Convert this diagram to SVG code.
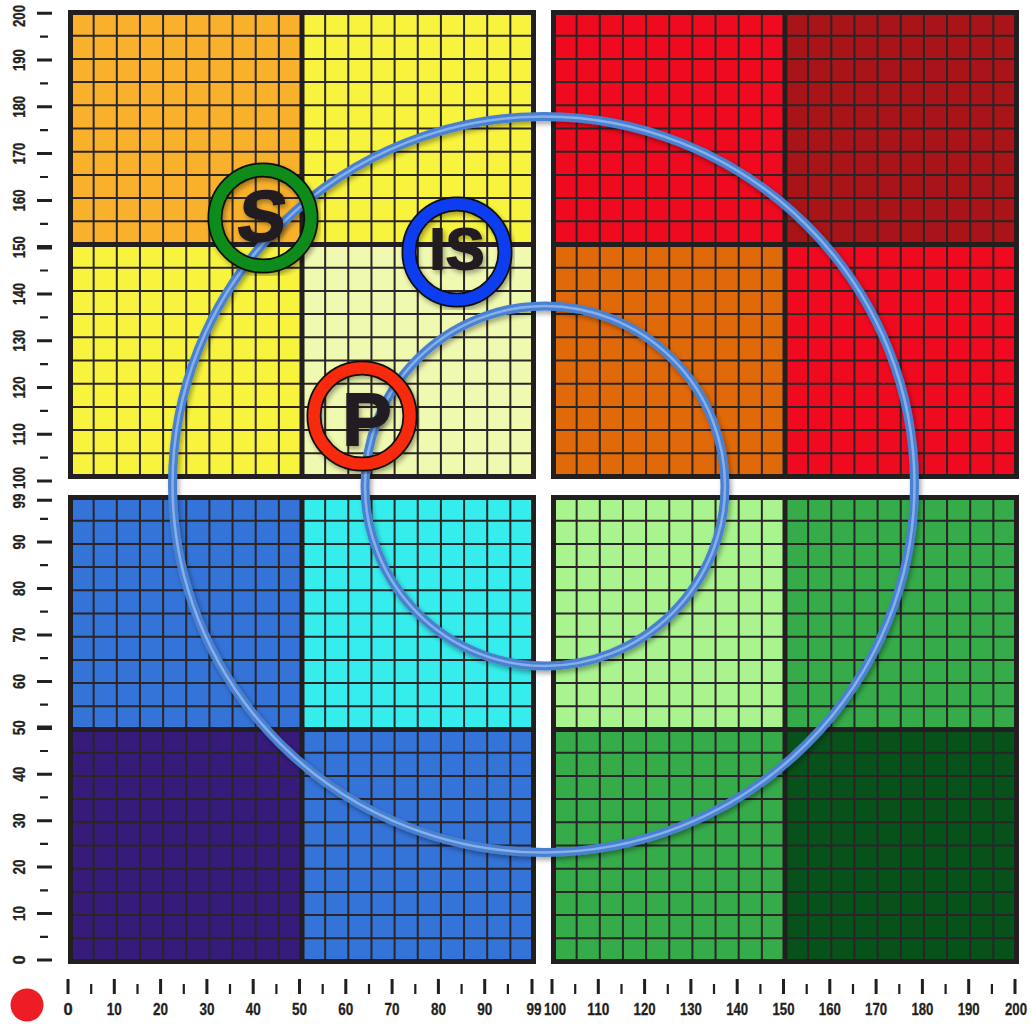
<svg xmlns="http://www.w3.org/2000/svg" xmlns:xlink="http://www.w3.org/1999/xlink" width="1031" height="1026" viewBox="0 0 1031 1026">
<style>
.grid{fill:none;stroke:#2a2526;stroke-width:2}
.dv{fill:none;stroke:#231f20;stroke-width:5}
.frame{fill:none;stroke:#231f20;stroke-width:5}
.tk{fill:none;stroke:#231f20;stroke-width:3}
.tm{fill:none;stroke:#231f20;stroke-width:2.2}
.tb{fill:none;stroke:#231f20;stroke-width:4.5}
.lbl{font-family:"Liberation Sans",Arial,sans-serif;font-weight:bold;font-size:16.5px;fill:#231f20;stroke:#231f20;stroke-width:0.3}
.xl{text-anchor:middle}
.yl{text-anchor:middle}
.ringA{fill:none;stroke:#4A80D0;stroke-width:9}
.ringB{fill:none;stroke:#86B0EC;stroke-width:2.5}
.mkO{fill:none;stroke:#111;stroke-width:15}
.let{font-family:"Liberation Sans",Arial,sans-serif;font-weight:bold;fill:#231f20;stroke:#231f20;stroke-width:1.8;text-anchor:middle}
</style>
<defs>
<filter id="sh" x="-10%" y="-10%" width="120%" height="120%">
<feDropShadow dx="2" dy="3" stdDeviation="2.5" flood-color="#000" flood-opacity="0.35"/>
</filter>
<path id="cells" class="grid" d="M23.15 0V464M46.3 0V464M69.45 0V464M92.6 0V464M115.75 0V464M138.9 0V464M162.05 0V464M185.2 0V464M208.35 0V464M254.65 0V464M277.8 0V464M300.95 0V464M324.1 0V464M347.25 0V464M370.4 0V464M393.55 0V464M416.7 0V464M439.85 0V464M0 23.2H463M0 46.4H463M0 69.6H463M0 92.8H463M0 116H463M0 139.2H463M0 162.4H463M0 185.6H463M0 208.8H463M0 255.2H463M0 278.4H463M0 301.6H463M0 324.8H463M0 348H463M0 371.2H463M0 394.4H463M0 417.6H463M0 440.8H463"/>
<g id="frameset">
<use xlink:href="#cells"/>
<path class="dv" d="M231.5 0V464M0 232H463"/>
<rect class="frame" x="0" y="0" width="463" height="464"/>
</g>
</defs>
<rect width="1031" height="1026" fill="#fff"/>

<g id="quadrant-top-left" transform="translate(70.5,12.5)">
<rect x="0" y="0" width="231.5" height="232" fill="#F9B12B"/>
<rect x="231.5" y="0" width="231.5" height="232" fill="#F8F43E"/>
<rect x="0" y="232" width="231.5" height="232" fill="#F8F43E"/>
<rect x="231.5" y="232" width="231.5" height="232" fill="#F0F9B0"/>
<use xlink:href="#frameset"/>
</g>
<g id="quadrant-top-right" transform="translate(553.5,12.5)">
<rect x="0" y="0" width="231.5" height="232" fill="#EF0A1F"/>
<rect x="231.5" y="0" width="231.5" height="232" fill="#A81418"/>
<rect x="0" y="232" width="231.5" height="232" fill="#E0690A"/>
<rect x="231.5" y="232" width="231.5" height="232" fill="#EF0A1F"/>
<use xlink:href="#frameset"/>
</g>
<g id="quadrant-bottom-left" transform="translate(70.5,497.5)">
<rect x="0" y="0" width="231.5" height="232" fill="#3473D8"/>
<rect x="231.5" y="0" width="231.5" height="232" fill="#36EDED"/>
<rect x="0" y="232" width="231.5" height="232" fill="#361B7A"/>
<rect x="231.5" y="232" width="231.5" height="232" fill="#3473D8"/>
<use xlink:href="#frameset"/>
</g>
<g id="quadrant-bottom-right" transform="translate(553.5,497.5)">
<rect x="0" y="0" width="231.5" height="232" fill="#A9F48F"/>
<rect x="231.5" y="0" width="231.5" height="232" fill="#35AB4A"/>
<rect x="0" y="232" width="231.5" height="232" fill="#35AB4A"/>
<rect x="231.5" y="232" width="231.5" height="232" fill="#07521B"/>
<use xlink:href="#frameset"/>
</g>

<g id="connectors">
<g id="ring-outer" filter="url(#sh)">
<ellipse class="ringA" cx="543.5" cy="484.5" rx="371" ry="368"/>
<ellipse class="ringB" cx="543.5" cy="484.5" rx="371" ry="368"/>
</g>
<g id="ring-inner" filter="url(#sh)">
<circle class="ringA" cx="545" cy="486" r="180"/>
<circle class="ringB" cx="545" cy="486" r="180"/>
</g>
</g>

<g id="node-S" filter="url(#sh)">
<circle class="mkO" cx="263" cy="218" r="48"/>
<circle cx="263" cy="218" r="48" fill="none" stroke="#078C1B" stroke-width="11.5"/>
<text class="let" font-size="72" transform="translate(259,241) skewX(-8)">S</text>
</g>
<g id="node-IS" filter="url(#sh)">
<circle class="mkO" cx="457" cy="252" r="48"/>
<circle cx="457" cy="252" r="48" fill="none" stroke="#0A3DF0" stroke-width="11.5"/>
<text class="let" font-size="58" x="457" y="269">IS</text>
</g>
<g id="node-P" filter="url(#sh)">
<circle class="mkO" cx="362" cy="416" r="48"/>
<circle cx="362" cy="416" r="48" fill="none" stroke="#F8290F" stroke-width="11.5"/>
<text class="let" font-size="74" x="367" y="445">P</text>
</g>

<g id="y-axis">
<path class="tk" d="M37 13.3H52M37 60.1H52M37 106.8H52M37 153.6H52M37 200.4H52M37 293.9H52M37 340.7H52M37 387.5H52M37 434.2H52M37 481H52M37 500.2H52M37 542H52M37 588.5H52M37 634.9H52M37 681.4H52M37 774.2H52M37 820.7H52M37 867.1H52M37 913.6H52M37 960H52"/>
<path class="tb" d="M37 247.2H52M37 727.8H52"/>
<path class="tm" d="M40 36.7H48M40 83.4H48M40 130.2H48M40 177H48M40 223.8H48M40 270.5H48M40 317.3H48M40 364.1H48M40 410.8H48M40 457.6H48M40 518.8H48M40 565.2H48M40 611.7H48M40 658.1H48M40 704.6H48M40 751H48M40 797.4H48M40 843.9H48M40 890.3H48M40 936.8H48"/>
<g class="lbl yl">
<text transform="translate(25,16) rotate(-90)" textLength="22" lengthAdjust="spacingAndGlyphs">200</text>
<text transform="translate(25,60.1) rotate(-90)" textLength="22" lengthAdjust="spacingAndGlyphs">190</text>
<text transform="translate(25,106.8) rotate(-90)" textLength="22" lengthAdjust="spacingAndGlyphs">180</text>
<text transform="translate(25,153.6) rotate(-90)" textLength="22" lengthAdjust="spacingAndGlyphs">170</text>
<text transform="translate(25,200.4) rotate(-90)" textLength="22" lengthAdjust="spacingAndGlyphs">160</text>
<text transform="translate(25,247.2) rotate(-90)" textLength="22" lengthAdjust="spacingAndGlyphs">150</text>
<text transform="translate(25,293.9) rotate(-90)" textLength="22" lengthAdjust="spacingAndGlyphs">140</text>
<text transform="translate(25,340.7) rotate(-90)" textLength="22" lengthAdjust="spacingAndGlyphs">130</text>
<text transform="translate(25,387.5) rotate(-90)" textLength="22" lengthAdjust="spacingAndGlyphs">120</text>
<text transform="translate(25,434.2) rotate(-90)" textLength="22" lengthAdjust="spacingAndGlyphs">110</text>
<text transform="translate(25,478) rotate(-90)" textLength="22" lengthAdjust="spacingAndGlyphs">100</text>
<text transform="translate(25,501) rotate(-90)" textLength="15" lengthAdjust="spacingAndGlyphs">99</text>
<text transform="translate(25,542) rotate(-90)" textLength="15" lengthAdjust="spacingAndGlyphs">90</text>
<text transform="translate(25,588.5) rotate(-90)" textLength="15" lengthAdjust="spacingAndGlyphs">80</text>
<text transform="translate(25,634.9) rotate(-90)" textLength="15" lengthAdjust="spacingAndGlyphs">70</text>
<text transform="translate(25,681.4) rotate(-90)" textLength="15" lengthAdjust="spacingAndGlyphs">60</text>
<text transform="translate(25,727.8) rotate(-90)" textLength="15" lengthAdjust="spacingAndGlyphs">50</text>
<text transform="translate(25,774.2) rotate(-90)" textLength="15" lengthAdjust="spacingAndGlyphs">40</text>
<text transform="translate(25,820.7) rotate(-90)" textLength="15" lengthAdjust="spacingAndGlyphs">30</text>
<text transform="translate(25,867.1) rotate(-90)" textLength="15" lengthAdjust="spacingAndGlyphs">20</text>
<text transform="translate(25,913.6) rotate(-90)" textLength="15" lengthAdjust="spacingAndGlyphs">10</text>
<text transform="translate(25,960) rotate(-90)">0</text>
</g>
</g>

<g id="x-axis">
<path class="tk" d="M68 979V994M114.3 979V994M160.6 979V994M206.9 979V994M253.2 979V994M299.5 979V994M345.8 979V994M392.1 979V994M438.4 979V994M484.7 979V994M532 979V994M552 979V994M598.3 979V994M644.6 979V994M690.9 979V994M737.2 979V994M783.5 979V994M829.8 979V994M876.1 979V994M922.4 979V994M968.7 979V994M1015 979V994"/>
<path class="tm" d="M91.2 984V994M137.5 984V994M183.8 984V994M230 984V994M276.4 984V994M322.7 984V994M369 984V994M415.3 984V994M461.6 984V994M507.9 984V994M575.2 984V994M621.5 984V994M667.8 984V994M714 984V994M760.4 984V994M806.7 984V994M853 984V994M899.3 984V994M945.6 984V994M991.9 984V994"/>
<g class="lbl xl">
<text x="68" y="1015">0</text>
<text x="114.3" y="1015" textLength="15" lengthAdjust="spacingAndGlyphs">10</text>
<text x="160.6" y="1015" textLength="15" lengthAdjust="spacingAndGlyphs">20</text>
<text x="206.9" y="1015" textLength="15" lengthAdjust="spacingAndGlyphs">30</text>
<text x="253.2" y="1015" textLength="15" lengthAdjust="spacingAndGlyphs">40</text>
<text x="299.5" y="1015" textLength="15" lengthAdjust="spacingAndGlyphs">50</text>
<text x="345.8" y="1015" textLength="15" lengthAdjust="spacingAndGlyphs">60</text>
<text x="392.1" y="1015" textLength="15" lengthAdjust="spacingAndGlyphs">70</text>
<text x="438.4" y="1015" textLength="15" lengthAdjust="spacingAndGlyphs">80</text>
<text x="484.7" y="1015" textLength="15" lengthAdjust="spacingAndGlyphs">90</text>
<text x="534" y="1015" textLength="15" lengthAdjust="spacingAndGlyphs">99</text>
<text x="555" y="1015" textLength="22" lengthAdjust="spacingAndGlyphs">100</text>
<text x="598.3" y="1015" textLength="22" lengthAdjust="spacingAndGlyphs">110</text>
<text x="644.6" y="1015" textLength="22" lengthAdjust="spacingAndGlyphs">120</text>
<text x="690.9" y="1015" textLength="22" lengthAdjust="spacingAndGlyphs">130</text>
<text x="737.2" y="1015" textLength="22" lengthAdjust="spacingAndGlyphs">140</text>
<text x="783.5" y="1015" textLength="22" lengthAdjust="spacingAndGlyphs">150</text>
<text x="829.8" y="1015" textLength="22" lengthAdjust="spacingAndGlyphs">160</text>
<text x="876.1" y="1015" textLength="22" lengthAdjust="spacingAndGlyphs">170</text>
<text x="922.4" y="1015" textLength="22" lengthAdjust="spacingAndGlyphs">180</text>
<text x="968.7" y="1015" textLength="22" lengthAdjust="spacingAndGlyphs">190</text>
<text x="1016" y="1015" textLength="22" lengthAdjust="spacingAndGlyphs">200</text>
</g>
</g>

<circle id="red-dot" cx="27" cy="1005" r="16.5" fill="#EE1C25"/>
</svg>
